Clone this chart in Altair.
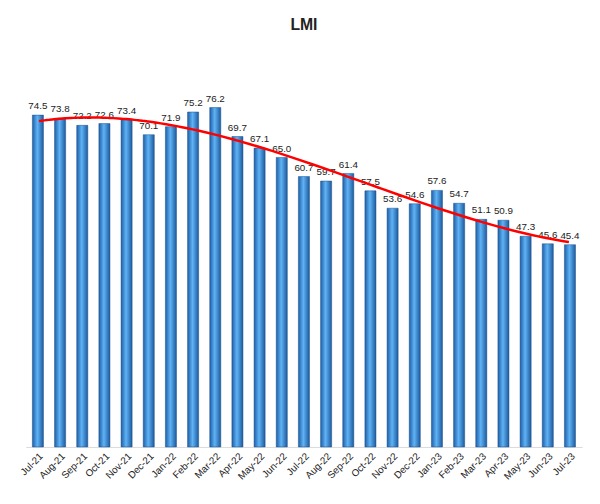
import altair as alt
import pandas as pd

months = ["Jul-21","Aug-21","Sep-21","Oct-21","Nov-21","Dec-21","Jan-22","Feb-22","Mar-22","Apr-22","May-22","Jun-22","Jul-22","Aug-22","Sep-22","Oct-22","Nov-22","Dec-22","Jan-23","Feb-23","Mar-23","Apr-23","May-23","Jun-23","Jul-23"]
values = [74.5,73.8,72.2,72.6,73.4,70.1,71.9,75.2,76.2,69.7,67.1,65.0,60.7,59.7,61.4,57.5,53.6,54.6,57.6,54.7,51.1,50.9,47.3,45.6,45.4]

df = pd.DataFrame({"month": months, "value": values, "idx": list(range(len(months)))})

x = alt.X("month:N", sort=months, title=None,
          scale=alt.Scale(paddingInner=0.5, paddingOuter=0.3),
          axis=alt.Axis(labelAngle=-45, labelFontSize=10, labelColor="#222", ticks=False,
                        domainColor="#d9d9d9", labelPadding=4))
y = alt.Y("value:Q", scale=alt.Scale(domain=[0, 88]), axis=None)

bars = alt.Chart(df).mark_bar(
    color=alt.Gradient(gradient="linear", x1=0, x2=1, y1=0, y2=0,
                       stops=[alt.GradientStop(offset=0, color="#1f5fa8"),
                              alt.GradientStop(offset=0.45, color="#5fb3f5"),
                              alt.GradientStop(offset=1, color="#1d5a9e")]),
    stroke="#1a4f8a", strokeWidth=0.5
).encode(x=x, y=y)

labels = alt.Chart(df).mark_text(dy=-9, fontSize=10, color="#222").encode(
    x=x, y=y, text=alt.Text("value:Q", format=".1f"))

trend_x = alt.Chart(df).transform_regression("idx", "value", method="poly", order=3).mark_line(
    color="#ff0000", strokeWidth=2.5, interpolate="monotone"
).encode(
    x=alt.X("idx:Q", scale=alt.Scale(domain=[-0.3 / 0.5, 24 + 0.3 / 0.5]), axis=None),
    y=y)

chart = alt.layer(bars, labels).properties(width=565, height=398)
trend = trend_x.properties(width=565, height=398)
full = alt.layer(chart, trend).resolve_scale(x="independent").properties(
    title=alt.Title("LMI", fontSize=16, fontWeight="bold", color="#222", offset=22),
    padding={"left": 10, "top": 6, "right": 10, "bottom": 5},
    background="white"
).configure_view(stroke=None)

full.save("out.html", embed_options={"renderer": "svg", "actions": False})
